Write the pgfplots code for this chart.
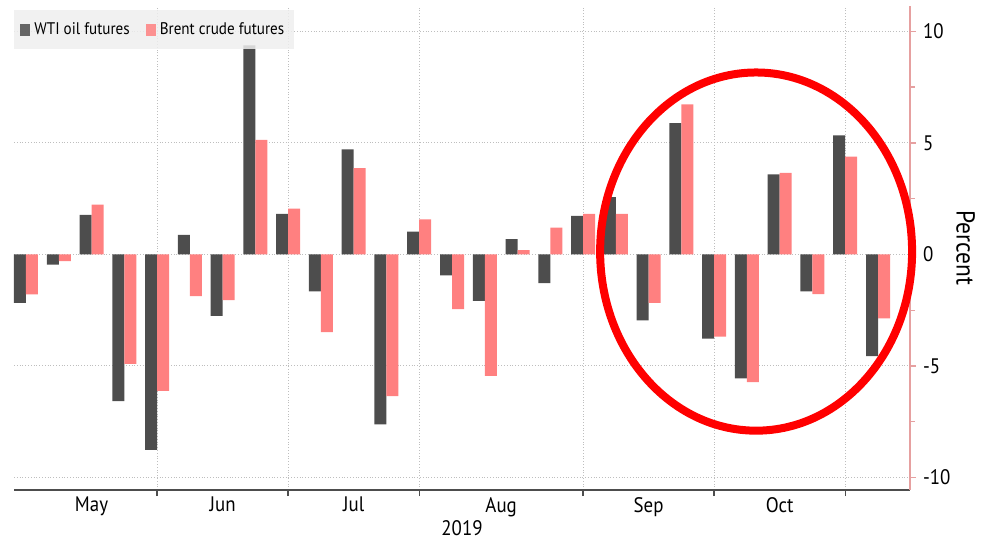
\documentclass[border=0pt]{standalone}
\usepackage{pgfplots}
\pgfplotsset{compat=1.18}
\usepackage{pgfplotstable}
\usepackage{fontspec}
\setmainfont{PT Sans}[FakeStretch=0.9]
\definecolor{wti}{RGB}{77,77,77}
\definecolor{brent}{RGB}{255,128,128}
\definecolor{axpink}{RGB}{230,160,160}
\definecolor{gridc}{RGB}{190,190,190}
\definecolor{legbg}{RGB}{238,238,238}

\pgfplotstableread{
i wti brent
0 -2.17 -1.79
1 -0.45 -0.30
2 1.78 2.24
3 -6.58 -4.90
4 -8.76 -6.11
5 0.88 -1.87
6 -2.75 -2.05
7 9.37 5.14
8 1.82 2.06
9 -1.66 -3.48
10 4.71 3.87
11 -7.62 -6.35
12 1.03 1.57
13 -0.94 -2.45
14 -2.08 -5.44
15 0.69 0.19
16 -1.29 1.20
17 1.73 1.82
18 2.57 1.82
19 -2.96 -2.17
20 5.89 6.73
21 -3.77 -3.68
22 -5.56 -5.72
23 3.59 3.66
24 -1.66 -1.78
25 5.34 4.39
26 -4.56 -2.87
}\data

\begin{document}
\begin{tikzpicture}
\begin{axis}[
  at={(0,0)}, anchor=south west,
  scale only axis, width=448pt, height=242pt,
  xmin=-0.366, xmax=26.976, ymin=-10.56, ymax=11.14,
  clip=false,
  axis x line*=bottom, axis y line*=right,
  x axis line style={draw=wti, line width=0.7pt, -},
  y axis line style={draw=axpink, line width=0.7pt, -},
  tick align=outside,
  /pgf/number format/assume math mode=true,
  ytick={-10,-5,0,5,10},
  minor ytick={-7.5,-2.5,2.5,7.5},
  ytick style={draw=axpink, line width=0.7pt},
  major tick length=3pt, minor tick length=2.5pt,
  yticklabel pos=right,
  ymajorgrids, xmajorgrids,
  grid style={densely dotted, gridc, line width=0.5pt},
  xtick={4,8,12,17,21,25}, xticklabels={},
  xtick style={draw=wti, line width=0.7pt},
  extra x ticks={2,6,10,14.5,19,23},
  extra x tick labels={May,Jun,Jul,Aug,Sep,Oct},
  extra x tick style={major tick length=0pt, grid=none, tick style={draw=none}},
  tick label style={font=\fontsize{10.5}{12}\selectfont, text=black},
  xlabel={2019}, xlabel style={font=\fontsize{10.5}{12}\selectfont, yshift=8pt},
  ylabel={Percent}, ylabel near ticks, ylabel shift=-4pt,
  ylabel style={rotate=180, font=\fontsize{13}{14}\selectfont},
  legend columns=2,
  legend style={at={(0,0.992)}, anchor=north west, fill=legbg, fill opacity=0.85, text opacity=1, draw=none,
    font=\fontsize{8.4}{10}\selectfont, inner xsep=3pt, inner ysep=4pt,
    /tikz/every even column/.style={column sep=6pt}},
  legend image code/.code={\fill[#1] (0pt,-3pt) rectangle (5pt,3pt);},
]
\addplot[ybar, bar width=6pt, bar shift=-3pt, fill=wti, draw=none] table[x=i, y=wti] {\data};
\addlegendentry{WTI oil futures}
\addplot[ybar, bar width=6pt, bar shift=3pt, fill=brent, draw=none] table[x=i, y=brent] {\data};
\addlegendentry{Brent crude futures}
\draw[red, line width=4pt] (axis cs:22.28,0.13) ellipse [x radius=4.76, y radius=8.03];
\end{axis}
\pgfresetboundingbox
\path (-7pt,-24pt) rectangle (484pt,245pt);
\end{tikzpicture}
\end{document}
